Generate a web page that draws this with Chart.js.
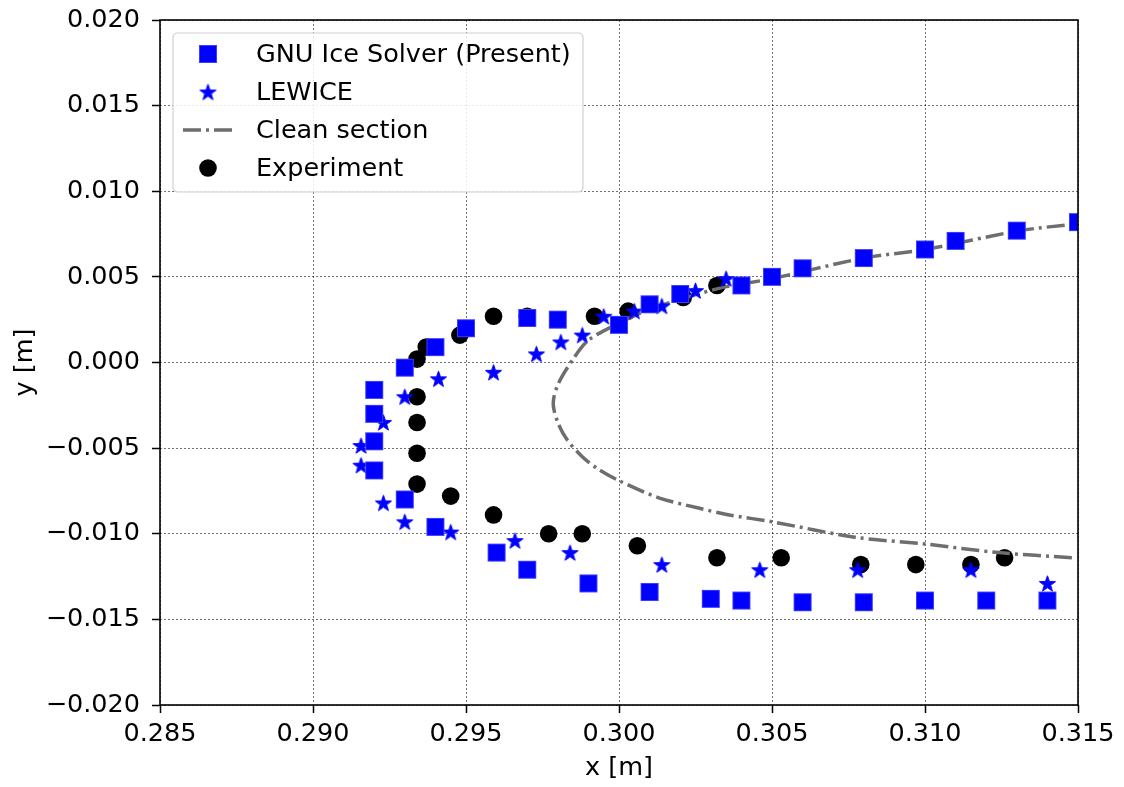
<!DOCTYPE html>
<html>
<head>
<meta charset="utf-8">
<script src="https://cdn.jsdelivr.net/npm/chart.js@4.4.1/dist/chart.umd.min.js"></script>
<style>
html,body{margin:0;padding:0;background:#fff;}
#wrap{width:1124px;height:787px;}
</style>
</head>
<body>
<div id="wrap"><canvas id="c" width="1124" height="787"></canvas></div>
<script>
// ---- data ----
const gnuX = [0.2930,0.2940,0.2950,0.2970,0.2980,0.3000,0.3010,0.3020,0.3040,0.3050,0.3060,0.3080,0.3100,0.3110,0.3130,0.3150,
              0.2920,0.2920,0.2920,0.2920,
              0.2930,0.2940,0.2960,0.2970,0.2990,0.3010,0.3030,0.3040,0.3060,0.3080,0.3100,0.3120,0.3140];
const gnuY = [-0.0003,0.0009,0.0020,0.0026,0.0025,0.0022,0.0034,0.0040,0.0045,0.0050,0.0055,0.0061,0.0066,0.0071,0.0077,0.0082,
              -0.0016,-0.0030,-0.0046,-0.0063,
              -0.0080,-0.0096,-0.0111,-0.0121,-0.0129,-0.0134,-0.0138,-0.0139,-0.0140,-0.0140,-0.0139,-0.0139,-0.0139];

const lewiceX = [0.29157,0.29157,0.2923,0.2930,0.2941,0.2959,0.2973,0.2981,0.2988,0.2995,0.3005,0.3014,0.3025,0.3035,
                 0.2923,0.2930,0.2945,0.2966,0.2984,0.3014,0.3046,0.3078,0.3115,0.3140];
const lewiceY = [-0.00485,-0.0060,-0.0035,-0.0020,-0.00095,-0.00057,0.0005,0.0012,0.0016,0.0027,0.0030,0.0033,0.0042,0.0049,
                 -0.0082,-0.0093,-0.0099,-0.0104,-0.0111,-0.0118,-0.0121,-0.0121,-0.0121,-0.0129];

const cleanX = [0.3148,0.3124,0.3100,0.3077,0.3050,0.3036,0.3026,0.3013,0.3000,0.2993,0.2988,0.2983,0.2980,0.29785,0.2980,
                0.2985,0.2990,0.3000,0.3010,0.3032,0.3050,0.3080,0.3100,0.3131,0.3150];
const cleanY = [-0.0114,-0.0111,-0.0106,-0.0102,-0.0093,-0.0089,-0.0085,-0.0079,-0.0069,-0.0062,-0.0055,-0.0045,-0.0035,-0.0024,-0.0013,
                0.0002,0.0013,0.0023,0.0031,0.0043,0.0049,0.0061,0.0066,0.0077,0.0081];

const expX = [0.2934,0.2937,0.2948,0.2959,0.2970,0.2992,0.3003,0.3021,0.3032,
              0.2934,0.2934,0.2934,0.2934,0.2945,0.2959,0.2977,0.2988,0.3006,0.3032,0.3053,0.3079,0.3097,0.3115,0.3126];
const expY = [0.0002,0.0009,0.0016,0.0027,0.0027,0.0027,0.0030,0.0038,0.0045,
              -0.0020,-0.0035,-0.0053,-0.0071,-0.0078,-0.0089,-0.0100,-0.0100,-0.0107,-0.0114,-0.0114,-0.0118,-0.0118,-0.0118,-0.0114];

const seriesLabels = ['GNU Ice Solver (Present)','LEWICE','Clean section','Experiment'];
const xRange = [0.285, 0.315];
const yRange = [-0.020, 0.020];
const tickStep = 0.005;
const xTitle = 'x [m]';
const yTitle = 'y [m]';

// ---- helpers ----
const zip = (xs, ys) => xs.map((x, i) => ({x: x, y: ys[i]}));
const BLUE = '#0000ff';
const LINEGRAY = '#6e6e6e';
const DASHDOT = [18, 5, 3, 5];
const FONT = "'DejaVu Sans', 'Liberation Sans', sans-serif";
const FSIZE = 25.5;

function starPath(c, cx, cy, R) {
  const r = R * 0.40;
  c.beginPath();
  for (let i = 0; i < 10; i++) {
    const ang = -Math.PI / 2 + i * Math.PI / 5;
    const rad = (i % 2 === 0) ? R : r;
    const px = cx + rad * Math.cos(ang), py = cy + rad * Math.sin(ang);
    if (i === 0) c.moveTo(px, py); else c.lineTo(px, py);
  }
  c.closePath();
}
function makeStar(R) {
  const cv = document.createElement('canvas');
  const s = Math.ceil(2 * R + 4);
  cv.width = s; cv.height = s;
  const c = cv.getContext('2d');
  starPath(c, s / 2, s / 2 + 0.8, R);
  c.fillStyle = BLUE; c.fill();
  c.lineWidth = 1; c.strokeStyle = BLUE; c.stroke();
  return cv;
}
function makeSquare(side) {
  const cv = document.createElement('canvas');
  const s = Math.ceil(side + 2);
  cv.width = s; cv.height = s;
  const c = cv.getContext('2d');
  c.fillStyle = BLUE;
  c.fillRect((s - side) / 2, (s - side) / 2, side, side);
  c.strokeStyle = 'rgba(60,60,255,1)'; c.lineWidth = 1;
  c.strokeRect((s - side) / 2 + 0.5, (s - side) / 2 + 0.5, side - 1, side - 1);
  return cv;
}
const starImg = makeStar(8.5);
const squareImg = makeSquare(18);

const fmtTick = v => {
  if (Math.abs(v) < 1e-12) return '0.000';
  return (v < 0 ? '\u2212' : '') + Math.abs(v).toFixed(3);
};

// legend + frame plugin
const decor = {
  id: 'decor',
  afterDraw(chart) {
    const c = chart.ctx;
    const a = chart.chartArea;
    c.save();
    c.setLineDash([]);
    c.strokeStyle = '#000';
    c.lineWidth = 1.6;
    c.strokeRect(a.left, a.top, a.right - a.left, a.bottom - a.top);
    c.restore();

    const bx = a.left + 13, by = a.top + 13, bw = 410, bh = 159, rr = 5;
    c.save();
    c.beginPath();
    c.moveTo(bx + rr, by);
    c.lineTo(bx + bw - rr, by); c.quadraticCurveTo(bx + bw, by, bx + bw, by + rr);
    c.lineTo(bx + bw, by + bh - rr); c.quadraticCurveTo(bx + bw, by + bh, bx + bw - rr, by + bh);
    c.lineTo(bx + rr, by + bh); c.quadraticCurveTo(bx, by + bh, bx, by + bh - rr);
    c.lineTo(bx, by + rr); c.quadraticCurveTo(bx, by, bx + rr, by);
    c.closePath();
    c.fillStyle = 'rgba(255,255,255,0.85)';
    c.fill();
    c.lineWidth = 1.2;
    c.strokeStyle = '#d0d0d0';
    c.stroke();

    const rows = [by + 21, by + 59, by + 97, by + 135];
    const mx = a.left + 48;
    const tx = a.left + 96;
    c.font = FSIZE + 'px ' + FONT;
    c.fillStyle = '#000';
    c.textBaseline = 'middle';
    c.textAlign = 'left';
    chart.data.datasets.forEach((ds, i) => {
      const y = rows[i];
      if (i === 0) {
        c.drawImage(squareImg, mx - squareImg.width / 2, y - squareImg.height / 2);
      } else if (i === 1) {
        c.drawImage(starImg, mx - starImg.width / 2, y - starImg.height / 2);
      } else if (i === 2) {
        c.save();
        c.strokeStyle = LINEGRAY; c.lineWidth = 3.5; c.setLineDash(DASHDOT);
        c.beginPath(); c.moveTo(mx - 25, y); c.lineTo(mx + 27, y); c.stroke();
        c.restore();
      } else {
        c.beginPath(); c.arc(mx, y, 8.8, 0, Math.PI * 2); c.fillStyle = '#000'; c.fill();
      }
      c.fillStyle = '#000';
      c.fillText(ds.label, tx, y + 1);
    });
    c.restore();
  }
};

Chart.defaults.font.family = FONT;
Chart.defaults.font.size = FSIZE;
Chart.defaults.color = '#000';

new Chart(document.getElementById('c'), {
  type: 'scatter',
  data: {
    datasets: [
      { label: seriesLabels[0], data: zip(gnuX, gnuY), pointStyle: squareImg, pointRadius: 9,
        backgroundColor: BLUE, borderColor: BLUE, clip: 0 },
      { label: seriesLabels[1], data: zip(lewiceX, lewiceY), pointStyle: starImg, pointRadius: 8,
        backgroundColor: BLUE, borderColor: BLUE, clip: 0 },
      { label: seriesLabels[2], data: zip(cleanX, cleanY), showLine: true, pointRadius: 0,
        borderColor: LINEGRAY, borderWidth: 3.5, borderDash: DASHDOT, tension: 0.3, fill: false, clip: 0 },
      { label: seriesLabels[3], data: zip(expX, expY), pointStyle: 'circle', pointRadius: 8.8,
        backgroundColor: '#000', borderColor: '#000', borderWidth: 0, clip: 0 }
    ]
  },
  options: {
    responsive: false,
    animation: false,
    devicePixelRatio: 1,
    layout: { padding: { top: 20, right: 46, left: 0, bottom: 0 } },
    plugins: { legend: { display: false }, tooltip: { enabled: false } },
    scales: {
      x: {
        type: 'linear', min: xRange[0], max: xRange[1],
        ticks: { stepSize: tickStep, callback: v => fmtTick(v), maxRotation: 0, autoSkip: false, padding: 6 },
        grid: { color: 'rgba(0,0,0,0.55)', lineWidth: 1, tickColor: '#000', tickLength: 8, tickWidth: 1.5,
                tickBorderDash: [] },
        border: { display: false, dash: [2, 2] },
        title: { display: true, text: xTitle, padding: { top: 0, bottom: 3 } },
        afterFit: s => { s.height = 82; s.paddingLeft = 0; s.paddingRight = 0; }
      },
      y: {
        type: 'linear', min: yRange[0], max: yRange[1],
        ticks: { stepSize: tickStep, callback: v => fmtTick(v), padding: 12 },
        grid: { color: 'rgba(0,0,0,0.55)', lineWidth: 1, tickColor: '#000', tickLength: 8, tickWidth: 1.5,
                tickBorderDash: [] },
        border: { display: false, dash: [2, 2] },
        title: { display: true, text: yTitle, padding: { top: 10, bottom: 0 } },
        afterFit: s => { s.width = 160; s.paddingTop = 0; s.paddingBottom = 0; }
      }
    }
  },
  plugins: [decor]
});
</script>
</body>
</html>
